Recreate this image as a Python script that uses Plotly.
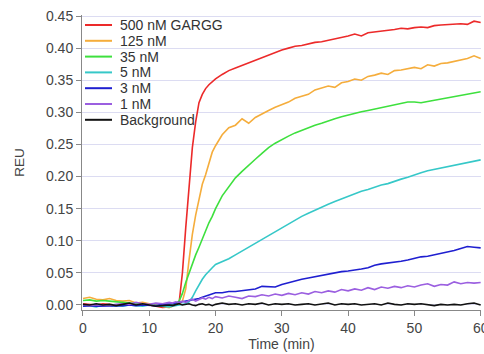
import plotly.graph_objects as go

time_min = [0, 1, 2, 3, 4, 5, 6, 7, 8, 9, 10, 11, 12, 13,
            13.5, 14, 14.5, 15, 15.5, 16, 16.5, 17, 17.5, 18, 18.5, 19, 19.5, 20,
            21, 22, 23, 24, 25, 26, 27, 28, 29, 30, 31, 32, 33, 34, 35, 36, 37, 38, 39, 40,
            41, 42, 43, 44, 45, 46, 47, 48, 49, 50, 51, 52, 53, 54, 55, 56, 57, 58, 59, 60]

reu_500nM = [0.002, 0.001, 0.000, 0.002, 0.001, 0.000, 0.001, 0.002, 0.000, 0.001, 0.000, -0.002, -0.004, -0.003,
             -0.002, 0.000, 0.003, 0.05, 0.12, 0.19, 0.245, 0.285, 0.315, 0.328, 0.337, 0.343, 0.348, 0.352,
             0.359, 0.365, 0.369, 0.373, 0.378, 0.382, 0.386, 0.389, 0.393, 0.397, 0.400, 0.403, 0.404, 0.407,
             0.409, 0.410, 0.412, 0.414, 0.416, 0.419, 0.422, 0.419, 0.424, 0.425, 0.426, 0.428, 0.429, 0.431,
             0.430, 0.432, 0.433, 0.432, 0.435, 0.436, 0.437, 0.438, 0.438, 0.437, 0.442, 0.440]

reu_125nM = [0.010, 0.012, 0.009, 0.008, 0.010, 0.007, 0.006, 0.007, 0.003, 0.004, 0.002, 0.000, -0.003, -0.004,
             -0.002, 0.000, 0.002, 0.006, 0.025, 0.07, 0.11, 0.14, 0.165, 0.188, 0.203, 0.222, 0.238, 0.248,
             0.265, 0.276, 0.280, 0.290, 0.283, 0.292, 0.298, 0.303, 0.308, 0.312, 0.316, 0.322, 0.325, 0.328,
             0.335, 0.338, 0.341, 0.339, 0.346, 0.348, 0.352, 0.350, 0.356, 0.358, 0.361, 0.359, 0.365, 0.366,
             0.368, 0.370, 0.368, 0.374, 0.372, 0.376, 0.377, 0.379, 0.381, 0.384, 0.388, 0.384]

reu_35nM = [0.007, 0.008, 0.006, 0.007, 0.006, 0.005, 0.004, 0.003, 0.002, 0.001, 0.000, -0.001, -0.002, -0.001,
            0.000, 0.002, 0.006, 0.018, 0.035, 0.05, 0.065, 0.078, 0.09, 0.103, 0.115, 0.128, 0.138, 0.15,
            0.170, 0.185, 0.198, 0.208, 0.218, 0.227, 0.236, 0.245, 0.252, 0.258, 0.263, 0.268, 0.272, 0.277,
            0.280, 0.283, 0.287, 0.290, 0.293, 0.296, 0.299, 0.301, 0.303, 0.305, 0.307, 0.309, 0.312, 0.314,
            0.316, 0.316, 0.315, 0.317, 0.319, 0.321, 0.323, 0.325, 0.327, 0.329, 0.331, 0.332]

reu_5nM = [-0.002, -0.001, -0.003, 0.000, -0.002, -0.001, -0.002, 0.000, -0.001, -0.002, 0.000, -0.001, -0.002, -0.003,
           -0.002, -0.001, 0.000, 0.000, 0.002, 0.005, 0.012, 0.022, 0.032, 0.040, 0.047, 0.053, 0.058, 0.063,
           0.067, 0.072, 0.078, 0.084, 0.090, 0.097, 0.103, 0.108, 0.115, 0.121, 0.127, 0.132, 0.138, 0.143,
           0.148, 0.153, 0.157, 0.161, 0.165, 0.170, 0.173, 0.177, 0.180, 0.184, 0.187, 0.189, 0.193, 0.196,
           0.199, 0.203, 0.206, 0.209, 0.211, 0.213, 0.215, 0.217, 0.219, 0.221, 0.224, 0.226]

reu_3nM = [-0.002, -0.001, -0.002, -0.002, -0.001, -0.002, -0.001, 0.000, -0.001, 0.000, 0.000, -0.001, 0.001, 0.001,
           0.002, 0.003, 0.004, 0.005, 0.006, 0.006, 0.007, 0.008, 0.010, 0.012, 0.014, 0.016, 0.017, 0.019,
           0.019, 0.021, 0.021, 0.022, 0.023, 0.025, 0.029, 0.028, 0.028, 0.032, 0.035, 0.037, 0.040, 0.042,
           0.044, 0.047, 0.049, 0.050, 0.052, 0.053, 0.054, 0.056, 0.058, 0.062, 0.064, 0.065, 0.066, 0.068,
           0.070, 0.073, 0.075, 0.076, 0.078, 0.080, 0.083, 0.085, 0.088, 0.091, 0.090, 0.089]

reu_1nM = [0.000, -0.001, 0.001, 0.000, -0.001, 0.001, 0.002, 0.001, 0.004, 0.002, 0.001, 0.003, 0.002, 0.004,
           0.003, 0.005, 0.004, 0.006, 0.004, 0.007, 0.009, 0.006, 0.008, 0.011, 0.009, 0.012, 0.010, 0.013,
           0.011, 0.014, 0.012, 0.010, 0.014, 0.013, 0.016, 0.014, 0.017, 0.015, 0.018, 0.016, 0.019, 0.017,
           0.021, 0.019, 0.022, 0.020, 0.024, 0.022, 0.025, 0.023, 0.027, 0.024, 0.028, 0.026, 0.029, 0.027,
           0.030, 0.028, 0.031, 0.033, 0.029, 0.032, 0.031, 0.036, 0.033, 0.035, 0.034, 0.035]

reu_background = [0.001, 0.000, 0.002, 0.000, 0.001, -0.001, 0.001, 0.003, 0.000, 0.002, 0.000, -0.002, -0.001, 0.000,
                  -0.001, 0.001, 0.002, 0.000, 0.001, 0.002, 0.000, -0.001, 0.001, 0.002, 0.000, 0.001, -0.001, 0.001,
                  0.003, 0.001, 0.002, 0.000, 0.002, 0.001, 0.003, 0.000, 0.002, 0.001, 0.002, 0.000, 0.001, 0.002,
                  0.000, 0.001, 0.003, 0.000, 0.002, 0.001, 0.002, 0.000, 0.001, 0.002, 0.000, 0.003, 0.001, 0.000,
                  0.002, 0.001, 0.002, 0.000, -0.001, 0.001, 0.000, 0.001, 0.000, 0.002, 0.003, 0.000]

series_names = ["500 nM GARGG", "125 nM", "35 nM", "5 nM", "3 nM", "1 nM", "Background"]
series_values = [reu_500nM, reu_125nM, reu_35nM, reu_5nM, reu_3nM, reu_1nM, reu_background]
series_colors = ["#ec2a2a", "#f5ad3c", "#3ee03e", "#36c8c8", "#1f1fd0", "#9b5fe0", "#111111"]

y_ticks = [0.00, 0.05, 0.10, 0.15, 0.20, 0.25, 0.30, 0.35, 0.40, 0.45]
x_ticks = [0, 10, 20, 30, 40, 50, 60]

# figure geometry (pixels)
W, H = 484, 354
ML, MR, MT, MB = 82, 3, 15, 44
plot_w = W - ML - MR
plot_h = H - MT - MB

fig = go.Figure()
for name, vals, col in zip(series_names, series_values, series_colors):
    fig.add_trace(go.Scatter(x=time_min, y=vals, mode="lines", name=name,
                             line=dict(color=col, width=1.6), showlegend=False))

# compact legend (top-left, inside the plot), built from the series names/colours
leg_x0, leg_x1, leg_tx = 3, 30, 36        # px from plot left
leg_y0, leg_dy = 10, 15.8                 # px from plot top
for i, (name, col) in enumerate(zip(series_names, series_colors)):
    yp = 1 - (leg_y0 + i * leg_dy) / plot_h
    fig.add_shape(type="line", xref="paper", yref="paper",
                  x0=leg_x0 / plot_w, x1=leg_x1 / plot_w, y0=yp, y1=yp,
                  line=dict(color=col, width=2))
    fig.add_annotation(xref="paper", yref="paper", x=leg_tx / plot_w, y=yp,
                       text=name, showarrow=False, xanchor="left", yanchor="middle",
                       font=dict(size=14, color="#333333"))

axis_font = dict(family="Arial, Liberation Sans, sans-serif", size=14, color="#444444")
fig.update_layout(
    width=W, height=H,
    margin=dict(l=ML, r=MR, t=MT, b=MB, autoexpand=False),
    paper_bgcolor="white", plot_bgcolor="white",
    font=axis_font,
    showlegend=False,
    xaxis=dict(range=[-0.15, 60.05], tickvals=x_ticks, ticks="outside", ticklen=5,
               tickcolor="#888888", showline=True, linecolor="#888888", linewidth=1,
               showgrid=False, zeroline=False, ticklabeloverflow="allow", automargin=False,
               title=dict(text="Time (min)", font=dict(size=14, color="#444444"), standoff=2)),
    yaxis=dict(range=[-0.0078, 0.4516], tickvals=y_ticks, tickformat=".2f",
               ticks="outside", ticklen=5, tickcolor="#888888",
               showline=True, linecolor="#888888", linewidth=1, automargin=False,
               showgrid=True, gridcolor="#dcdcf2", gridwidth=1, zeroline=False,
               title=dict(text="REU", font=dict(size=13.5, color="#444444"), standoff=18)),
)

fig.write_html("out.html", config={"displayModeBar": False},
               post_script="document.body.style.margin='0';")
